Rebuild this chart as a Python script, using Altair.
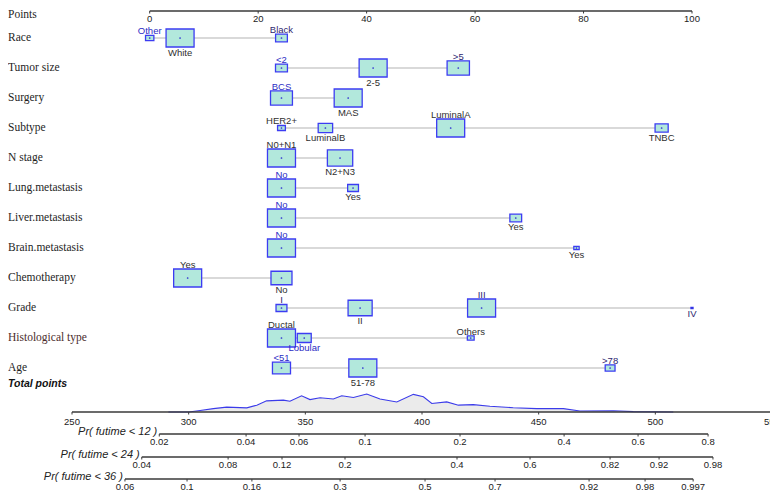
import altair as alt
import numpy as np
import pandas as pd

# ---------------- data ----------------
variables = ["Race", "Tumor size", "Surgery", "Subtype", "N stage", "Lung.metastasis",
             "Liver.metastasis", "Brain.metastasis", "Chemotherapy", "Grade",
             "Histological type", "Age"]
levels = [
    ["Other", "White", "Black"],
    ["<2", "2-5", ">5"],
    ["BCS", "MAS"],
    ["HER2+", "LuminalB", "LuminalA", "TNBC"],
    ["N0+N1", "N2+N3"],
    ["No", "Yes"],
    ["No", "Yes"],
    ["No", "Yes"],
    ["Yes", "No"],
    ["I", "II", "III", "IV"],
    ["Ductal", "Lobular", "Others"],
    ["<51", "51-78", ">78"],
]
level_points = [
    [0, 5.6, 24.3],
    [24.3, 41.2, 56.9],
    [24.3, 36.6],
    [24.3, 32.4, 55.5, 94.4],
    [24.3, 35.1],
    [24.3, 37.5],
    [24.3, 67.5],
    [24.3, 78.7],
    [7.0, 24.3],
    [24.3, 38.8, 61.2, 100],
    [24.3, 28.5, 59.2],
    [24.3, 39.3, 84.9],
]
# relative frequency (%) of each level (box area)
level_freq = [
    [7, 79, 14],
    [10, 55, 35],
    [38, 62],
    [5, 17, 64, 14],
    [55, 45],
    [87, 13],
    [85, 15],
    [96.5, 3.5],
    [64, 36],
    [8, 39, 52.7, 0.3],
    [76.5, 19, 4.5],
    [27, 65, 8],
]

points_ticks = [0, 20, 40, 60, 80, 100]
total_ticks = [250, 300, 350, 400, 450, 500, 550]

pr_titles = ["Pr( futime < 12 )", "Pr( futime < 24 )", "Pr( futime < 36 )"]
pr_labels = [
    ["0.02", "0.04", "0.06", "0.1", "0.2", "0.4", "0.6", "0.8"],
    ["0.04", "0.08", "0.12", "0.2", "0.4", "0.6", "0.82", "0.92", "0.98"],
    ["0.06", "0.1", "0.16", "0.3", "0.5", "0.7", "0.92", "0.98", "0.997"],
]
pr_total_points = [
    [287.4, 324.6, 347.3, 375.6, 416.3, 460.9, 492.6, 522.6],
    [279.9, 316.9, 340.0, 367.0, 415.0, 446.3, 480.6, 501.6, 524.7],
    [272.7, 299.3, 327.1, 364.9, 401.3, 431.3, 471.6, 495.6, 516.2],
]

density_total = [291.3, 300.1, 304.9, 310.6, 316.3, 324.9, 329.2, 333.4, 340.6, 343.4,
                 348.4, 352.0, 356.3, 362.0, 365.6, 370.6, 376.3, 380.6, 382.0, 389.2,
                 396.3, 400.6, 404.2, 410.6, 415.6, 422.0, 429.1, 439.1, 449.2, 460.6,
                 467.7, 482.0, 490.6, 507.7]
density_value = [0.0, 0.0, 0.08, 0.19, 0.27, 0.23, 0.38, 0.62, 0.66, 0.60,
                 0.90, 0.69, 0.79, 0.72, 0.90, 0.81, 1.00, 0.79, 0.72, 0.56,
                 0.98, 0.85, 0.47, 0.56, 0.38, 0.41, 0.32, 0.24, 0.19, 0.19,
                 0.06, 0.07, 0.02, 0.0]

# ---------------- styles / layout ----------------
label_tone = {
    ("Race", "Other"): "blue", ("Tumor size", "<2"): "blue", ("Surgery", "BCS"): "blue",
    ("Lung.metastasis", "No"): "blue", ("Liver.metastasis", "No"): "blue",
    ("Brain.metastasis", "No"): "blue", ("Histological type", "Lobular"): "blue",
    ("Age", "<51"): "blue",
    ("Tumor size", ">5"): "navy", ("Grade", "I"): "navy", ("Grade", "III"): "navy",
    ("Grade", "IV"): "navy", ("Age", ">78"): "navy", ("Race", "Black"): "navy",
}
row_tone = {"Histological type": "#4a2c2c"}
W, H = 762, 483
ROW_PX = 30.0
PTS_X0, PTS_X100 = 141.7, 684.0
TOT_X250, TOT_X550 = 64.0, 764.0
PX_PER_PT = (PTS_X100 - PTS_X0) / 100.0
BOX_HALF_W, BOX_HALF_H = 14.0, 9.0
Y_POINTS_AXIS = -0.9
Y_POINTS_TITLE = -0.77
Y_TOTAL_LABEL = 11.53
Y_TOTAL_AXIS = 12.467
Y_PR_AXES = [13.2, 13.967, 14.7]
TICK_LEN = 2.5 / ROW_PX
DENS_PX = 18.0

XP = alt.Scale(domain=[0, 100], range=[PTS_X0, PTS_X100])
XT = alt.Scale(domain=[250, 550], range=[TOT_X250, TOT_X550])
YR = alt.Scale(domain=[-1, H / ROW_PX - 1], range=[0, H])
base_px = (Y_TOTAL_AXIS + 1) * ROW_PX
YD = alt.Scale(domain=[0, 1], range=[base_px, base_px - DENS_PX])

SANS = "Liberation Sans"
SERIF = "Liberation Serif"
AXIS_COL = "#3a3a3a"

# ---------------- tables ----------------
recs = []
for i, (var, levs, pts, fr) in enumerate(zip(variables, levels, level_points, level_freq)):
    fmax = max(fr)
    ranks = np.argsort(np.argsort(pts, kind="stable"), kind="stable")
    for lev, p, f, rk in zip(levs, pts, fr, ranks):
        s = float(np.sqrt(f / fmax))
        hw = s * BOX_HALF_W / PX_PER_PT
        hh = s * BOX_HALF_H / ROW_PX
        recs.append(dict(variable=var, level=lev, row=i, pts=p,
                         x_lo=p - hw, x_hi=p + hw, y_top=i - hh, y_bot=i + hh,
                         side="above" if rk % 2 == 0 else "below",
                         tone=label_tone.get((var, lev), "dark")))
lv = pd.DataFrame(recs)
spans = lv.groupby(["variable", "row"], as_index=False).agg(x_min=("pts", "min"), x_max=("pts", "max"))
rowlab = pd.DataFrame({"variable": variables, "row": list(range(len(variables))),
                       "col": [row_tone.get(v, "#1e1e1e") for v in variables]})

pt_df = pd.DataFrame({"v": points_ticks, "y": Y_POINTS_AXIS, "y2": Y_POINTS_AXIS + TICK_LEN})
pt_line = pd.DataFrame({"a": [min(points_ticks)], "b": [max(points_ticks)], "y": [Y_POINTS_AXIS]})

tt_df = pd.DataFrame({"v": total_ticks, "y": Y_TOTAL_AXIS, "y2": Y_TOTAL_AXIS + TICK_LEN})
tt_line = pd.DataFrame({"a": [min(total_ticks)], "b": [max(total_ticks)], "y": [Y_TOTAL_AXIS]})
dens = pd.DataFrame({"t": density_total, "d": density_value})

pr_recs = []
for k, (title, labs, tps) in enumerate(zip(pr_titles, pr_labels, pr_total_points)):
    for lab, tp in zip(labs, tps):
        pr_recs.append(dict(axis=k, title=title, label=lab, t=tp,
                            y=Y_PR_AXES[k], y2=Y_PR_AXES[k] + TICK_LEN))
pr = pd.DataFrame(pr_recs)
pr_line = pr.groupby(["axis", "title", "y"], as_index=False).agg(a=("t", "min"), b=("t", "max"))

tone_scale = alt.Scale(domain=["blue", "navy", "dark"], range=["#2c2cc4", "#2e2670", "#2f2f2f"])

def Y(f, scale=YR):
    return alt.Y(f, scale=scale, axis=None)

layers = []
# predictor rows
layers.append(alt.Chart(spans).mark_rule(color="#cdcdcd", strokeWidth=1.6).encode(
    x=alt.X("x_min:Q", scale=XP, axis=None), x2="x_max:Q", y=Y("row:Q")))
layers.append(alt.Chart(lv).mark_rect(fill="#b2e8dc", stroke="#3c3cf2", strokeWidth=1.3).encode(
    x=alt.X("x_lo:Q", scale=XP, axis=None), x2="x_hi:Q", y=Y("y_top:Q"), y2="y_bot:Q"))
layers.append(alt.Chart(lv).mark_circle(size=3, color="#3030d0", opacity=1).encode(
    x=alt.X("pts:Q", scale=XP, axis=None), y=Y("row:Q")))
layers.append(alt.Chart(lv).transform_filter(alt.datum.side == "above").mark_text(
    font=SANS, fontSize=9.5, baseline="alphabetic", dy=-1).encode(
    x=alt.X("pts:Q", scale=XP, axis=None), y=Y("y_top:Q"), text="level:N",
    color=alt.Color("tone:N", scale=tone_scale, legend=None)))
layers.append(alt.Chart(lv).transform_filter(alt.datum.side == "below").mark_text(
    font=SANS, fontSize=9.5, baseline="top", dy=0.5).encode(
    x=alt.X("pts:Q", scale=XP, axis=None), y=Y("y_bot:Q"), text="level:N",
    color=alt.Color("tone:N", scale=tone_scale, legend=None)))
layers.append(alt.Chart(rowlab).mark_text(font=SERIF, fontSize=11.5, align="left",
                                          baseline="middle").encode(
    x=alt.value(0), y=Y("row:Q"), text="variable:N",
    color=alt.Color("col:N", scale=None, legend=None)))

# points axis
layers.append(alt.Chart(pd.DataFrame({"t": ["Points"], "y": [Y_POINTS_TITLE]})).mark_text(
    font=SERIF, fontSize=11.5, align="left", baseline="middle", color="#1e1e1e").encode(
    x=alt.value(0), y=Y("y:Q"), text="t:N"))
layers.append(alt.Chart(pt_line).mark_rule(color=AXIS_COL, strokeWidth=1.3).encode(
    x=alt.X("a:Q", scale=XP, axis=None), x2="b:Q", y=Y("y:Q")))
layers.append(alt.Chart(pt_df).mark_rule(color=AXIS_COL, strokeWidth=1).encode(
    x=alt.X("v:Q", scale=XP, axis=None), y=Y("y:Q"), y2="y2:Q"))
layers.append(alt.Chart(pt_df).mark_text(font=SANS, fontSize=9.5, baseline="middle", dy=8,
                                         color="#222222").encode(
    x=alt.X("v:Q", scale=XP, axis=None), y=Y("y:Q"), text="v:Q"))

# total points
layers.append(alt.Chart(pd.DataFrame({"t": ["Total points"], "y": [Y_TOTAL_LABEL]})).mark_text(
    font=SANS, fontSize=10.5, fontStyle="italic", fontWeight="bold", align="left",
    baseline="middle", color="#111111").encode(x=alt.value(0), y=Y("y:Q"), text="t:N"))
layers.append(alt.Chart(dens).mark_area(color="#ebebeb").encode(
    x=alt.X("t:Q", scale=XT, axis=None), y=Y("d:Q", YD)))
layers.append(alt.Chart(dens).mark_line(color="#3b3bea", strokeWidth=1.1).encode(
    x=alt.X("t:Q", scale=XT, axis=None), y=Y("d:Q", YD)))
layers.append(alt.Chart(tt_line).mark_rule(color=AXIS_COL, strokeWidth=1.4).encode(
    x=alt.X("a:Q", scale=XT, axis=None), x2="b:Q", y=Y("y:Q")))
layers.append(alt.Chart(tt_df).mark_rule(color=AXIS_COL, strokeWidth=1).encode(
    x=alt.X("v:Q", scale=XT, axis=None), y=Y("y:Q"), y2="y2:Q"))
layers.append(alt.Chart(tt_df).mark_text(font=SANS, fontSize=9.5, baseline="middle", dy=9.5,
                                         color="#222222").encode(
    x=alt.X("v:Q", scale=XT, axis=None), y=Y("y:Q"), text="v:Q"))

# probability axes
layers.append(alt.Chart(pr_line).mark_rule(color=AXIS_COL, strokeWidth=1.3).encode(
    x=alt.X("a:Q", scale=XT, axis=None), x2="b:Q", y=Y("y:Q")))
layers.append(alt.Chart(pr).mark_rule(color=AXIS_COL, strokeWidth=1).encode(
    x=alt.X("t:Q", scale=XT, axis=None), y=Y("y:Q"), y2="y2:Q"))
layers.append(alt.Chart(pr).mark_text(font=SANS, fontSize=9.5, baseline="middle", dy=8,
                                      color="#222222").encode(
    x=alt.X("t:Q", scale=XT, axis=None), y=Y("y:Q"), text="label:N"))
layers.append(alt.Chart(pr_line).mark_text(font=SANS, fontSize=11, fontStyle="italic",
                                           align="right", baseline="middle", dx=-2, dy=-2,
                                           color="#222222").encode(
    x=alt.X("a:Q", scale=XT, axis=None), y=Y("y:Q"), text="title:N"))

chart = alt.layer(*layers).resolve_scale(x="independent", y="independent").properties(
    width=W, height=H, autosize=alt.AutoSizeParams(type="none"), padding=0,
    background="white"
).configure_view(stroke=None)

chart.save("out.html", embed_options={"renderer": "svg", "actions": False})
